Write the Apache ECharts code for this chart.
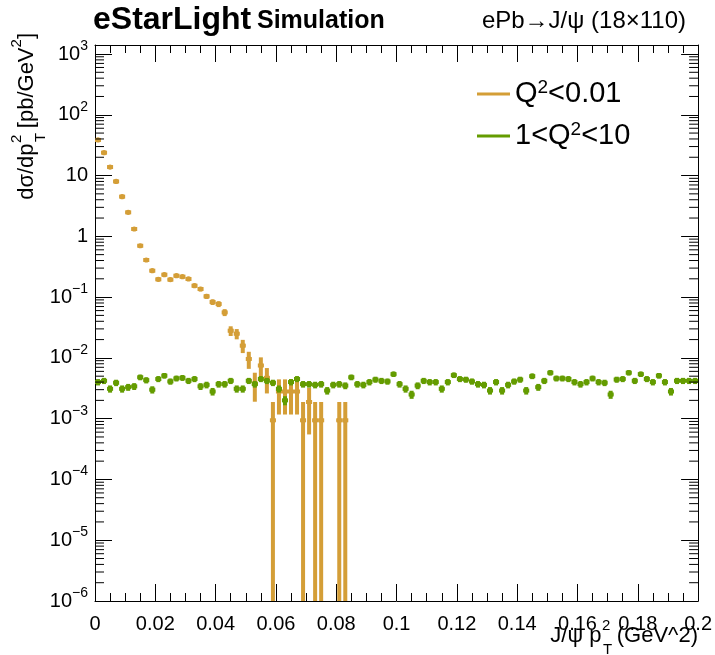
<!DOCTYPE html>
<html><head><meta charset="utf-8">
<script src="https://cdn.jsdelivr.net/npm/echarts@6/dist/echarts.min.js"></script>
<style>html,body{margin:0;padding:0;background:#fff}#c{width:715px;height:655px}</style>
</head><body><div id="c"></div>
<script>
// Histogram binning (100 bins of 0.002 GeV^2 from 0 to 0.2)
const binLow = 0, binWidth = 0.002;

// Q^2 < 0.01 (orange) : bin contents and errors (bins beyond are empty)
const orangeVals = [38.5,23.8,13.8,8.0,4.5,2.48,1.32,0.70,0.408,0.272,
 0.196,0.234,0.194,0.225,0.217,0.199,0.154,0.136,0.103,0.083,
 0.077,0.056,0.028,0.025,0.0159,0.0096,0.0038,0.0075,0.0047,0.00094,
 0.0028,0.0028,0.0028,0.0028,0.00094,0.00188,0.00094,0.00094,null,null,
 0.00094,0.00094];
const orangeErr = [0.19,0.15,0.114,0.087,0.065,0.048,0.035,0.026,0.0196,0.016,
 0.0136,0.0148,0.0135,0.0145,0.0143,0.0137,0.012,0.0113,0.0098,0.0088,
 0.0085,0.0073,0.0051,0.0048,0.0039,0.003,0.0019,0.0027,0.0021,0.00094,
 0.00163,0.00163,0.00163,0.00163,0.00094,0.00133,0.00094,0.00094,null,null,
 0.00094,0.00094];

// 1 < Q^2 < 10 (green)
const greenVals = [0.0040,0.0042,0.0031,0.0039,0.0031,0.0033,0.0034,0.0048,0.0043,0.0030,
 0.0045,0.0051,0.0041,0.0046,0.0047,0.0042,0.0045,0.0034,0.0036,0.0028,
 0.0037,0.0037,0.0042,0.0031,0.0031,0.0042,0.0037,0.0045,0.0042,0.0039,
 0.0031,0.0020,0.0040,0.0045,0.0037,0.0037,0.0036,0.0037,0.0029,0.0036,
 0.0037,0.0035,0.0048,0.0037,0.0036,0.0040,0.0044,0.0042,0.0041,0.0054,
 0.0037,0.0031,0.0025,0.0035,0.0042,0.0040,0.0040,0.0031,0.0040,0.0052,
 0.0045,0.0044,0.0041,0.0037,0.0036,0.0029,0.0040,0.0029,0.0036,0.0041,
 0.0044,0.0029,0.0050,0.0033,0.0042,0.0057,0.0046,0.0046,0.0045,0.0040,
 0.0037,0.0040,0.0046,0.0040,0.0039,0.0025,0.0044,0.0045,0.0057,0.0042,
 0.0054,0.0045,0.0040,0.0051,0.0040,0.0028,0.0042,0.0042,0.0042,0.0042];
const greenErr = [0.00048,0.00049,0.00042,0.00047,0.00042,0.00043,0.00044,0.00052,0.0005,0.00041,
 0.00051,0.00054,0.00048,0.00051,0.00052,0.00049,0.00051,0.00044,0.00045,0.0004,
 0.00046,0.00046,0.00049,0.00042,0.00042,0.00049,0.00046,0.00051,0.00049,0.00047,
 0.00042,0.00034,0.00048,0.00051,0.00046,0.00046,0.00045,0.00046,0.00041,0.00045,
 0.00046,0.00045,0.00052,0.00046,0.00045,0.00048,0.0005,0.00049,0.00048,0.00055,
 0.00046,0.00042,0.00038,0.00045,0.00049,0.00048,0.00048,0.00042,0.00048,0.00054,
 0.00051,0.0005,0.00048,0.00046,0.00045,0.00041,0.00048,0.00041,0.00045,0.00048,
 0.0005,0.00041,0.00053,0.00043,0.00049,0.00057,0.00051,0.00051,0.00051,0.00048,
 0.00046,0.00048,0.00051,0.00048,0.00047,0.00038,0.0005,0.00051,0.00057,0.00049,
 0.00055,0.00051,0.00048,0.00054,0.00048,0.0004,0.00049,0.00049,0.00049,0.00049];

const seriesNames = ['Q2<0.01', '1<Q2<10'];
const legendLabels = ['Q{s|2}<0.01', '1<Q{s|2}<10'];
const colors = ['#D49E37', '#649C00'];

const xTickLabels = ['0','0.02','0.04','0.06','0.08','0.1','0.12','0.14','0.16','0.18','0.2'];
const yTickLabels = ['{b|10}{s|\u22126}','{b|10}{s|\u22125}','{b|10}{s|\u22124}','{b|10}{s|\u22123}',
 '{b|10}{s|\u22122}','{b|10}{s|\u22121}','{b|1}','{b|10}','{b|10}{s|2}','{b|10}{s|3}'];
const yMin = 1e-6, yMax = 1406;

function toData(vals, errs) {
  const out = [];
  vals.forEach((v, i) => {
    if (v == null) return;
    out.push([binLow + binWidth * (i + 0.5), v, errs[i]]);
  });
  return out;
}

function makeRender(color) {
  return function (params, api) {
    const x = api.value(0), y = api.value(1), e = api.value(2);
    const cs = params.coordSys;
    const top = cs.y, bot = cs.y + cs.height;
    const p = api.coord([x, y]);
    const pl = api.coord([x - binWidth / 2, y]);
    const pr = api.coord([x + binWidth / 2, y]);
    let hi = api.coord([x, y + e])[1];
    let lo = (y - e) > yMin ? api.coord([x, y - e])[1] : bot;
    hi = Math.max(hi, top); lo = Math.min(lo, bot);
    return {
      type: 'group',
      children: [
        { type: 'line', shape: { x1: p[0], y1: hi, x2: p[0], y2: lo }, style: { stroke: color, lineWidth: 4 } },
        { type: 'line', shape: { x1: pl[0], y1: p[1], x2: pr[0], y2: p[1] }, style: { stroke: color, lineWidth: 4 } },
        { type: 'circle', shape: { cx: p[0], cy: p[1], r: 2.6 }, style: { fill: color } }
      ]
    };
  };
}

// ROOT-style minor ticks on log axis (2..9 x 10^n)
const minorTickVals = [];
for (let ex = -6; ex <= 3; ex++) for (let m = 2; m <= 9; m++) {
  const v = m * Math.pow(10, ex);
  if (v < yMax) minorTickVals.push([0, v]);
}

const font = 'Liberation Sans';
const mctx = document.createElement('canvas').getContext('2d');
function tw(text, size) {
  mctx.font = size + 'px "Liberation Sans"';
  return mctx.measureText(text).width;
}
function txt(x, y, text, size, align) {
  return { type: 'text', x: x, y: y, silent: true,
    style: { text: text, fontSize: size, fontFamily: font, fill: '#000', align: align || 'left', verticalAlign: 'middle' } };
}

// X title: "J/ψ p^2_T (GeV^2)" right-aligned near grid end, below labels
const xtSize = 22, xtSup = 15;
const xEnd = 698, xMid = 636;
const xTail = ' (GeV^2)';
const wTail = tw(xTail, xtSize), wStack = tw('T', xtSup);
const xStackL = xEnd - wTail - wStack;
const xTitle = { type: 'group', silent: true, children: [
  txt(xStackL, xMid, 'J/\u03c8 p', xtSize, 'right'),
  txt(xStackL + 0.5, xMid - 10, '2', xtSup),
  txt(xStackL + 1.5, xMid + 14, 'T', xtSup),
  txt(xEnd, xMid, xTail, xtSize, 'right')
] };

// Y title: "dσ/dp^2_T [pb/GeV^2]" rotated, ending near top
const ytSize = 22, ytSup = 15;
const wA = tw('d\u03c3/dp', ytSize), wS = tw('T', ytSup), wB = tw(' [pb/GeV', ytSize), wS2 = tw('2', ytSup), wC = tw(']', ytSize);
const yTopEnd = 33, yCx = 27;
const yBottomStart = yTopEnd + wA + wS + wB + wS2 + wC;
const yTitle = { type: 'group', x: yCx, y: yBottomStart, rotation: Math.PI / 2, silent: true, children: [
  txt(0, 0, 'd\u03c3/dp', ytSize),
  txt(wA + 0.5, -10, '2', ytSup),
  txt(wA + 1.5, 14, 'T', ytSup),
  txt(wA + wS, 0, ' [pb/GeV', ytSize),
  txt(wA + wS + wB, -10, '2', ytSup),
  txt(wA + wS + wB + wS2, 0, ']', ytSize)
] };

const chart = echarts.init(document.getElementById('c'), null, { renderer: 'canvas' });

const axisCommonX = {
  type: 'value', min: 0, max: 0.2, interval: 0.02,
  axisLine: { show: true, onZero: false, lineStyle: { color: '#000', width: 1 } },
  axisTick: { show: true, inside: true, length: 17, lineStyle: { color: '#000' } },
  minorTick: { show: true, splitNumber: 4, length: 8, lineStyle: { color: '#000' } },
  splitLine: { show: false }, minorSplitLine: { show: false }
};
const axisCommonY = {
  type: 'log', logBase: 10, min: yMin, max: yMax, splitNumber: 9,
  axisLine: { show: true, onZero: false, lineStyle: { color: '#000', width: 1 } },
  axisTick: { show: true, inside: true, length: 17, lineStyle: { color: '#000' } },
  splitLine: { show: false }
};

chart.setOption({
  animation: false,
  backgroundColor: '#fff',
  grid: { left: 95, right: 16, top: 45, bottom: 54, containLabel: false },
  xAxis: [
    Object.assign({}, axisCommonX, {
      position: 'bottom',
      axisLabel: {
        color: '#000', fontSize: 20, fontFamily: font, margin: 13,
        formatter: v => xTickLabels[Math.round(v / 0.02)] || ''
      }
    }),
    Object.assign({}, axisCommonX, { position: 'top', axisLabel: { show: false } })
  ],
  yAxis: [
    Object.assign({}, axisCommonY, {
      position: 'left',
      axisLabel: {
        color: '#000', fontFamily: font, margin: 7,
        formatter: v => {
          const l = Math.log10(v), e = Math.round(l);
          if (Math.abs(l - e) > 1e-6) return '';
          return yTickLabels[e + 6] || '';
        },
        rich: {
          b: { fontSize: 20, fontFamily: font, color: '#000', lineHeight: 30 },
          s: { fontSize: 14, fontFamily: font, color: '#000', lineHeight: 18, verticalAlign: 'top' }
        }
      }
    }),
    Object.assign({}, axisCommonY, { position: 'right', axisLabel: { show: false } })
  ],
  legend: {
    orient: 'vertical', left: 472, top: 73, itemWidth: 33, itemHeight: 3, itemGap: 10,
    icon: 'rect',
    data: seriesNames,
    formatter: name => legendLabels[seriesNames.indexOf(name)],
    textStyle: {
      fontSize: 29, fontFamily: font, color: '#000', lineHeight: 32,
      rich: {
        s: { fontSize: 19, fontFamily: font, color: '#000', lineHeight: 20, verticalAlign: 'top' }
      }
    }
  },
  series: [
    {
      name: '__minor', type: 'custom', silent: true, xAxisIndex: 0, yAxisIndex: 0,
      data: minorTickVals, z: 10,
      renderItem: function (params, api) {
        const cs = params.coordSys;
        const y = api.coord([0, api.value(1)])[1];
        return {
          type: 'group', children: [
            { type: 'line', shape: { x1: cs.x, y1: y, x2: cs.x + 9, y2: y }, style: { stroke: '#000', lineWidth: 1 } },
            { type: 'line', shape: { x1: cs.x + cs.width - 9, y1: y, x2: cs.x + cs.width, y2: y }, style: { stroke: '#000', lineWidth: 1 } }
          ]
        };
      }
    },
    {
      name: seriesNames[0], type: 'custom', xAxisIndex: 0, yAxisIndex: 0,
      itemStyle: { color: colors[0] }, encode: { x: 0, y: 1 },
      data: toData(orangeVals, orangeErr), renderItem: makeRender(colors[0]), z: 3
    },
    {
      name: seriesNames[1], type: 'custom', xAxisIndex: 0, yAxisIndex: 0,
      itemStyle: { color: colors[1] }, encode: { x: 0, y: 1 },
      data: toData(greenVals, greenErr), renderItem: makeRender(colors[1]), z: 4
    }
  ],
  graphic: [
    { type: 'text', x: 93, y: 20, silent: true, style: { text: 'eStarLight', font: 'bold 32px "Liberation Sans"', fill: '#000', verticalAlign: 'middle' } },
    { type: 'text', x: 257, y: 21, silent: true, style: { text: 'Simulation', font: 'bold 25px "Liberation Sans"', fill: '#000', verticalAlign: 'middle' } },
    { type: 'text', x: 686, y: 21, silent: true, style: { text: 'ePb\u2192J/\u03c8 (18\u00d7110)', font: '24px "Liberation Sans"', fill: '#000', align: 'right', verticalAlign: 'middle' } },
    xTitle,
    yTitle
  ]
});
</script></body></html>
